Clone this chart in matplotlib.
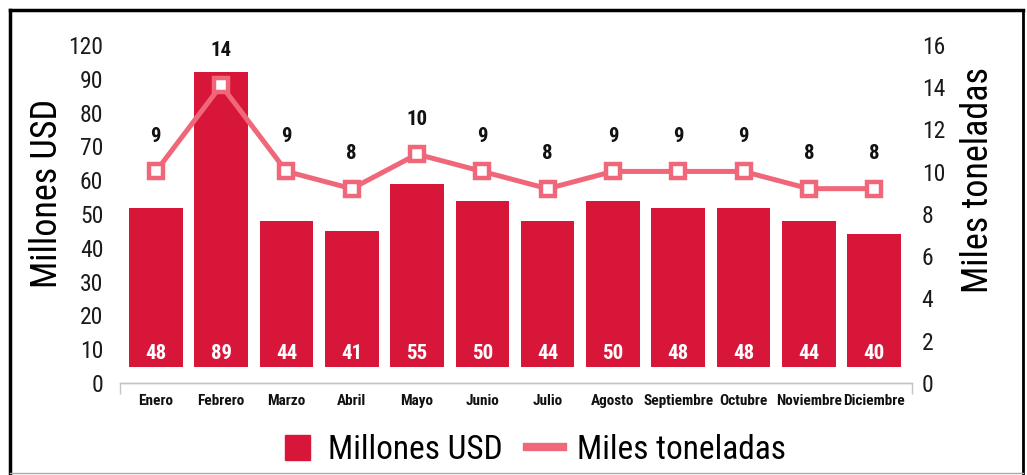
import numpy as np
import matplotlib
matplotlib.use('Agg')
import matplotlib.pyplot as plt
from matplotlib.lines import Line2D

# ---------------------------------------------------------------
# DATOS

meses = ['Enero', 'Febrero', 'Marzo', 'Abril', 'Mayo', 'Junio', 'Julio',
         'Agosto', 'Septiembre', 'Octubre', 'Noviembre', 'Diciembre']
millones_usd = [48, 89, 44, 41, 55, 50, 44, 50, 48, 48, 44, 40]
miles_ton = [9, 14, 9, 8, 10, 9, 8, 9, 9, 9, 8, 8]
ticks_usd = ['0', '10', '20', '30', '40', '50', '60', '70', '80', '90', '120']
ticks_ton = ['0', '2', '4', '6', '8', '10', '12', '14', '16']

COLOR_BARRA = '#D8163A'
COLOR_LINEA = '#F0677A'

plt.rcParams['font.family'] = ['Roboto Condensed', 'DejaVu Sans']

# ---------------------------------------------------------------
# FIGURA

fig = plt.figure(figsize=(10.27, 4.75), dpi=100)
ax = fig.add_axes([0.1168, 0.1937, 0.7712, 0.7116])
ax2 = ax.twinx()

x = np.arange(len(meses))

# Barras
ax.bar(x, millones_usd, width=0.82, color=COLOR_BARRA, zorder=2)
for xi, v in zip(x, millones_usd):
    ax.annotate(str(v), (xi, 0), xytext=(0, 10), textcoords='offset points',
                ha='center', va='center', color='white', fontsize=15,
                fontweight='bold')

# Linea
ax2.plot(x, miles_ton, color=COLOR_LINEA, lw=3.6, marker='s', ms=10,
         mfc='white', mec=COLOR_LINEA, mew=3.2, zorder=3)
for xi, v in zip(x, miles_ton):
    ax2.annotate(str(v), (xi, v), xytext=(0, 25), textcoords='offset points',
                 ha='center', va='center', color='#111111', fontsize=15,
                 fontweight='bold')

# Ejes
ax.set_xlim(-0.55, 11.58)
ax.set_ylim(-4.82, 97.0)
ax2.set_ylim(-3.28, 16.34)

lo, hi = ax.get_ylim()
ax.set_yticks(np.linspace(lo, hi, len(ticks_usd)), ticks_usd)
lo2, hi2 = ax2.get_ylim()
ax2.set_yticks(np.linspace(lo2, hi2, len(ticks_ton)), ticks_ton)

ax.set_xticks(x, meses, fontsize=11, fontweight='bold')
ax.set_xticks([-0.55, 11.58], minor=True)
ax.tick_params(axis='x', which='major', length=0, pad=8, colors='#111111')
ax.tick_params(axis='x', which='minor', length=8, width=1, color='#c4c4c4')
ax.tick_params(axis='y', length=0, pad=12, labelsize=17, labelcolor='#1a1a1a')
ax2.tick_params(axis='y', length=0, pad=7, labelsize=17, labelcolor='#1a1a1a')

for a in (ax, ax2):
    for s in ('top', 'left', 'right'):
        a.spines[s].set_visible(False)
    a.spines['bottom'].set_color('#c4c4c4')
    a.spines['bottom'].set_linewidth(1)

fig.text(0.046, 1 - 193 / 475, 'Millones USD', rotation=90, ha='center',
         va='center', fontsize=26)
fig.text(0.952, 1 - 180 / 475, 'Miles toneladas', rotation=90, ha='center',
         va='center', fontsize=26)

# Leyenda
handles = [Line2D([], [], marker='s', ls='none', ms=18, color=COLOR_BARRA),
           Line2D([], [], color=COLOR_LINEA, lw=6)]
fig.legend(handles, ['Millones USD', 'Miles toneladas'], loc='center',
           bbox_to_anchor=(0.518, 1 - 450 / 475), ncol=2, frameon=False,
           fontsize=24, handlelength=1.1, handletextpad=0.4,
           columnspacing=0.7)

# Marco
fig.add_artist(Line2D([10 / 1027, 10 / 1027], [0, 1 - 10 / 475],
                      transform=fig.transFigure, color='black', lw=2.5))
fig.add_artist(Line2D([1023 / 1027, 1023 / 1027], [0, 1 - 10 / 475],
                      transform=fig.transFigure, color='black', lw=2))
fig.add_artist(Line2D([10 / 1027, 1023 / 1027], [1 - 10 / 475, 1 - 10 / 475],
                      transform=fig.transFigure, color='black', lw=2.5))
fig.add_artist(Line2D([10 / 1027, 1023 / 1027], [1 - 473 / 475, 1 - 473 / 475],
                      transform=fig.transFigure, color='#aaaaaa', lw=1))

fig.savefig('out.png', dpi=100)
